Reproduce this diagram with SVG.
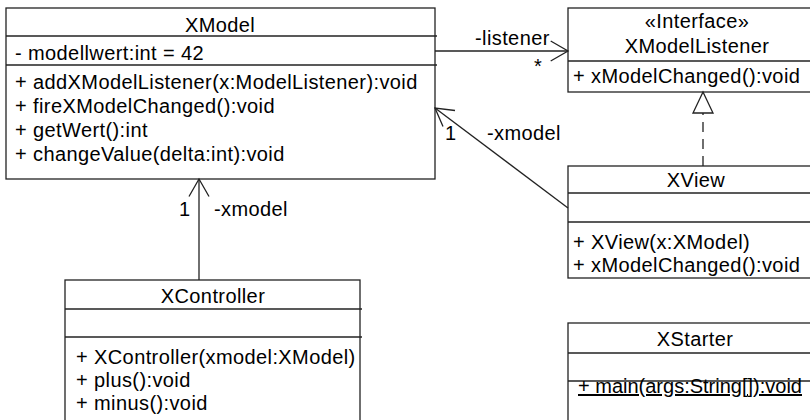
<svg xmlns="http://www.w3.org/2000/svg" width="810" height="420" viewBox="0 0 810 420">
<style>
.box{fill:#fff;stroke:#222;stroke-width:1.3}
.div{stroke:#222;stroke-width:1.3}
.t{font-family:"Liberation Sans",Arial,sans-serif;font-size:20px;letter-spacing:0.4px;fill:#000}
.c{text-anchor:middle}
.ln{stroke:#222;stroke-width:1.3;fill:none}
.dash{stroke-dasharray:10,7}
</style>
<rect width="810" height="420" fill="#fff"/>
<g id="XModel">
<rect class="box" x="6" y="8" width="429" height="171"/>
<line class="div" x1="6" y1="36" x2="437" y2="36"/>
<line class="div" x1="6" y1="65" x2="437" y2="65"/>
<text class="t c" x="220" y="32">XModel</text>
<text class="t" x="15" y="60">- modellwert:int = 42</text>
<text class="t" x="15" y="89">+ addXModelListener(x:ModelListener):void</text>
<text class="t" x="15" y="113">+ fireXModelChanged():void</text>
<text class="t" x="15" y="137">+ getWert():int</text>
<text class="t" x="15" y="161">+ changeValue(delta:int):void</text>
</g>
<g id="XModelListener">
<rect class="box" x="568" y="8" width="262" height="84"/>
<line class="div" x1="568" y1="61" x2="830" y2="61"/>
<text class="t c" x="697" y="28">«Interface»</text>
<text class="t c" x="697" y="53">XModelListener</text>
<text class="t" x="573" y="83">+ xModelChanged():void</text>
</g>
<g id="XView">
<rect class="box" x="568" y="166" width="262" height="112"/>
<line class="div" x1="568" y1="193" x2="830" y2="193"/>
<line class="div" x1="568" y1="222" x2="830" y2="222"/>
<text class="t c" x="696" y="187">XView</text>
<text class="t" x="573" y="249">+ XView(x:XModel)</text>
<text class="t" x="573" y="272">+ xModelChanged():void</text>
</g>
<g id="XController">
<rect class="box" x="65" y="280" width="295" height="160"/>
<line class="div" x1="65" y1="309" x2="362" y2="309"/>
<line class="div" x1="65" y1="337" x2="362" y2="337"/>
<text class="t c" x="213" y="303">XController</text>
<text class="t" x="76" y="364">+ XController(xmodel:XModel)</text>
<text class="t" x="76" y="387">+ plus():void</text>
<text class="t" x="76" y="410">+ minus():void</text>
</g>
<g id="XStarter">
<rect class="box" x="568" y="323" width="262" height="117"/>
<line class="div" x1="568" y1="353" x2="830" y2="353"/>
<line class="div" x1="568" y1="381" x2="830" y2="381"/>
<text class="t c" x="695" y="346">XStarter</text>
<text class="t" x="578" y="393" style="letter-spacing:0" text-decoration="underline">+ main(args:String[]):void</text>
</g>
<g id="connectors">
<line class="ln" x1="435" y1="51" x2="568" y2="51"/>
<polyline class="ln" points="550.7,41 568,51 550.7,61"/>
<text class="t" x="475" y="45">-listener</text>
<text class="t" x="534" y="73">*</text>
<line class="ln" x1="568" y1="208" x2="435" y2="108"/>
<polyline class="ln" points="455,110.5 435,108 443,126.5"/>
<text class="t" x="445" y="140">1</text>
<text class="t" x="487" y="140">-xmodel</text>
<line class="ln" x1="199" y1="280" x2="199" y2="179"/>
<polyline class="ln" points="189,196.5 199,179 209,196.5"/>
<text class="t" x="179" y="216">1</text>
<text class="t" x="214" y="216">-xmodel</text>
<line class="ln dash" x1="703" y1="166" x2="703" y2="113"/>
<polygon class="ln" points="703,92 693,113 713,113" fill="#fff"/>
</g>
</svg>
